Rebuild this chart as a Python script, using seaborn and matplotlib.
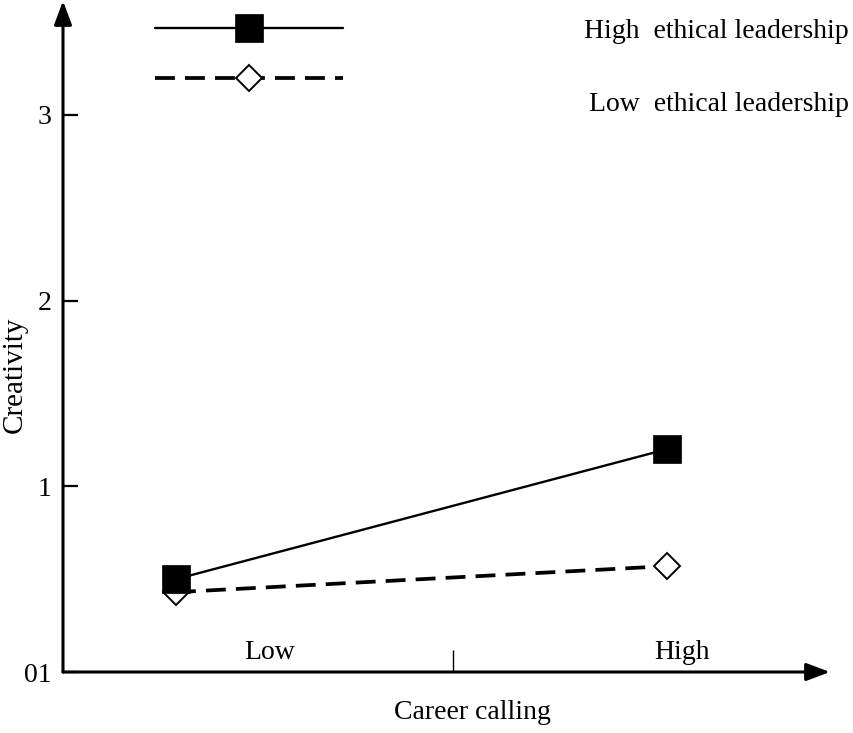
import numpy as np
import pandas as pd
import matplotlib
matplotlib.use("Agg")
import matplotlib.pyplot as plt
import seaborn as sns

# ---------------- data ----------------
calling_levels = ["Low", "High"]          # career calling (x categories)
calling_pos = [0.0, 1.0]                  # numeric positions of the two levels
high_ethical = [0.50, 1.20]               # creativity, high ethical leadership
low_ethical = [0.43, 0.57]                # creativity, low ethical leadership
series_names = ["High  ethical leadership", "Low  ethical leadership"]
y_ticks = [0, 1, 2, 3]
y_tick_labels = ["01", "1", "2", "3"]
cat_label_pos = [0.19, 1.03]              # where the category words sit
divider_pos = [0.565]                     # small divider tick on x axis
x_label = "Career calling"
y_label = "Creativity"

df = pd.DataFrame({
    "calling": calling_pos * 2,
    "creativity": high_ethical + low_ethical,
    "leadership": [series_names[0]] * 2 + [series_names[1]] * 2,
})

# ---------------- style ----------------
sns.set_style("white")
plt.rcParams["font.family"] = ["Liberation Serif", "DejaVu Serif"]
plt.rcParams["text.color"] = "black"
plt.rcParams["axes.labelcolor"] = "black"
FS = 20

fig = plt.figure(figsize=(8.54, 7.33), dpi=100)
W, H = 854, 733
# axes: left spine at x=63px, bottom spine at y=672px, top 3px, right 830px
ax = fig.add_axes([63 / W, (H - 672) / H, (830 - 63) / W, (672 - 3) / H])

# low ethical leadership (dashed, open diamond)
sns.lineplot(data=df[df.leadership == series_names[1]], x="calling", y="creativity",
             ax=ax, color="black", linewidth=2.7, linestyle=(0, (5.3, 2.7)),
             marker="D", markersize=13.5, markerfacecolor="white",
             markeredgecolor="black", markeredgewidth=1.4, legend=False)
# high ethical leadership (solid, filled square)
sns.lineplot(data=df[df.leadership == series_names[0]], x="calling", y="creativity",
             ax=ax, color="black", linewidth=1.7,
             marker="s", markersize=20, markerfacecolor="black",
             markeredgecolor="black", markeredgewidth=0.5, legend=False)

ax.set_xlim(-0.2301, 1.3320)
ax.set_ylim(0, 3.6026)
for s in ax.spines.values():
    s.set_visible(False)

# arrow axes
arrow = dict(arrowstyle="-|>,head_length=0.4,head_width=0.15", color="black",
             lw=2.2, shrinkA=0, shrinkB=0, mutation_scale=36)
ax.annotate("", xy=(1, 0), xytext=(0, 0), xycoords="axes fraction",
            textcoords="axes fraction", arrowprops=arrow, annotation_clip=False)
ax.annotate("", xy=(0, 1.003), xytext=(0, 0), xycoords="axes fraction",
            textcoords="axes fraction", arrowprops=arrow, annotation_clip=False)

# y ticks
ax.set_yticks(y_ticks, y_tick_labels)
ax.tick_params(axis="y", which="major", direction="in", length=10.8, width=1.6,
               pad=8, labelsize=FS, left=True, color="black", labelcolor="black")
# x ticks: one divider tick, category words as minor tick labels above axis
ax.set_xticks(divider_pos, [""])
ax.tick_params(axis="x", which="major", direction="in", length=15.8, width=1.0,
               bottom=True, color="black")
ax.set_xticks(cat_label_pos, calling_levels, minor=True)
ax.tick_params(axis="x", which="minor", length=0, pad=-23, labelsize=FS,
               labelcolor="black", bottom=True)

ax.set_xlabel(x_label, fontsize=FS, color="black")
ax.xaxis.set_label_coords((472 - 63) / 767, (672 - 700) / 669)
ax.set_ylabel(y_label, fontsize=21, color="black")
ax.yaxis.set_label_coords((28 - 63) / 767, (672 - 375) / 669)

# legend: handles on the left, words on the right
handles = [ax.lines[1], ax.lines[0]]
leg = fig.legend(handles, ["", ""], loc="upper left",
                 bbox_to_anchor=(155 / W, 1 - 15 / H), bbox_transform=fig.transFigure,
                 frameon=False, fontsize=FS, handlelength=188 / 27.78,
                 handleheight=1.5, labelspacing=0.58, borderpad=0,
                 borderaxespad=0, handletextpad=0, numpoints=1)
fig.text(849 / W, 1 - 38 / H, series_names[0], ha="right", va="baseline", fontsize=FS)
fig.text(849 / W, 1 - 111 / H, series_names[1], ha="right", va="baseline", fontsize=FS)

fig.savefig("out.png", dpi=100)
